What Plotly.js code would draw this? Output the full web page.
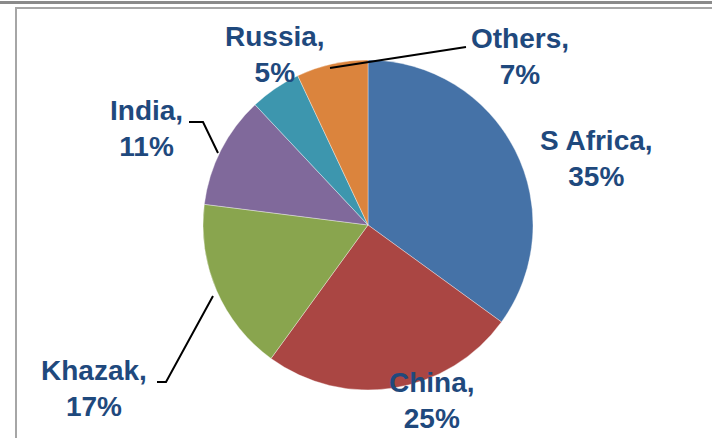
<!DOCTYPE html>
<html>
<head>
<meta charset="utf-8">
<script src="https://cdn.plot.ly/plotly-3.0.1.min.js"></script>
<style>
  html, body { margin: 0; padding: 0; background: #ffffff; }
  #wrap { position: relative; width: 712px; height: 438px; overflow: hidden; }
  #chart { position: absolute; left: 0; top: 0; width: 712px; height: 438px; }
  #topbar { position: absolute; left: 0; top: 1px; width: 712px; height: 3px; background: #8a8a8a; z-index: 2; }
  #frame { position: absolute; left: 15px; top: 7px; width: 720px; height: 460px;
           border-left: 2px solid #a6a6a6; border-top: 2px solid #a6a6a6; z-index: 2; pointer-events: none; }
</style>
</head>
<body>
<div id="wrap">
  <div id="chart"></div>
  <div id="topbar"></div>
  <div id="frame"></div>
</div>
<script>
// ---- data ----
const labels = ["S Africa", "China", "Khazak", "India", "Russia", "Others"];
const values = [35, 25, 17, 11, 5, 7];
const colors = ["#4572A7", "#AA4643", "#89A54E", "#80699B", "#3D96AE", "#DB843D"];

// ---- label placement (pixel centres in the 712x438 page) ----
const labelPos = {
  "S Africa": [596, 158],
  "China":    [432, 400],
  "Khazak":   [94, 388],
  "India":    [146, 128],
  "Russia":   [275, 54],
  "Others":   [520, 56]
};
// leader lines (pixel polylines)
const leaders = [
  [[330, 68], [466, 47]],
  [[189, 122], [203, 122], [218, 153]],
  [[157, 382], [166, 382], [213, 296]]
];

const W = 712, H = 438;
const px = x => x / W;
const py = y => 1 - y / H;

// pie geometry
const cx = 368, cy = 225, r = 165;

const trace = {
  type: "pie",
  labels: labels,
  values: values,
  sort: false,
  direction: "clockwise",
  rotation: 0,
  textinfo: "none",
  hoverinfo: "none",
  marker: { colors: colors, line: { color: "rgba(255,255,255,0.6)", width: 0.6 } },
  domain: { x: [px(cx - r), px(cx + r)], y: [py(cy + r), py(cy - r)] }
};

const annotations = labels.map((lab, i) => ({
  xref: "paper", yref: "paper",
  x: px(labelPos[lab][0]), y: py(labelPos[lab][1]),
  xanchor: "center", yanchor: "middle",
  showarrow: false,
  text: lab + ",<br>" + values[i] + "%",
  font: { family: "Liberation Sans, Arial, sans-serif", size: 28, color: "#1F497D", weight: "bold" },
  align: "center"
}));

const shapes = leaders.map(pts => ({
  type: "path",
  xref: "paper", yref: "paper",
  path: pts.map((p, k) => (k === 0 ? "M" : "L") + px(p[0]) + "," + py(p[1])).join(" "),
  line: { color: "#000000", width: 2 }
}));

const layout = {
  width: W, height: H,
  margin: { l: 0, r: 0, t: 0, b: 0 },
  paper_bgcolor: "#ffffff",
  showlegend: false,
  annotations: annotations,
  shapes: shapes
};

Plotly.newPlot("chart", [trace], layout, { displayModeBar: false, staticPlot: true });
</script>
</body>
</html>
